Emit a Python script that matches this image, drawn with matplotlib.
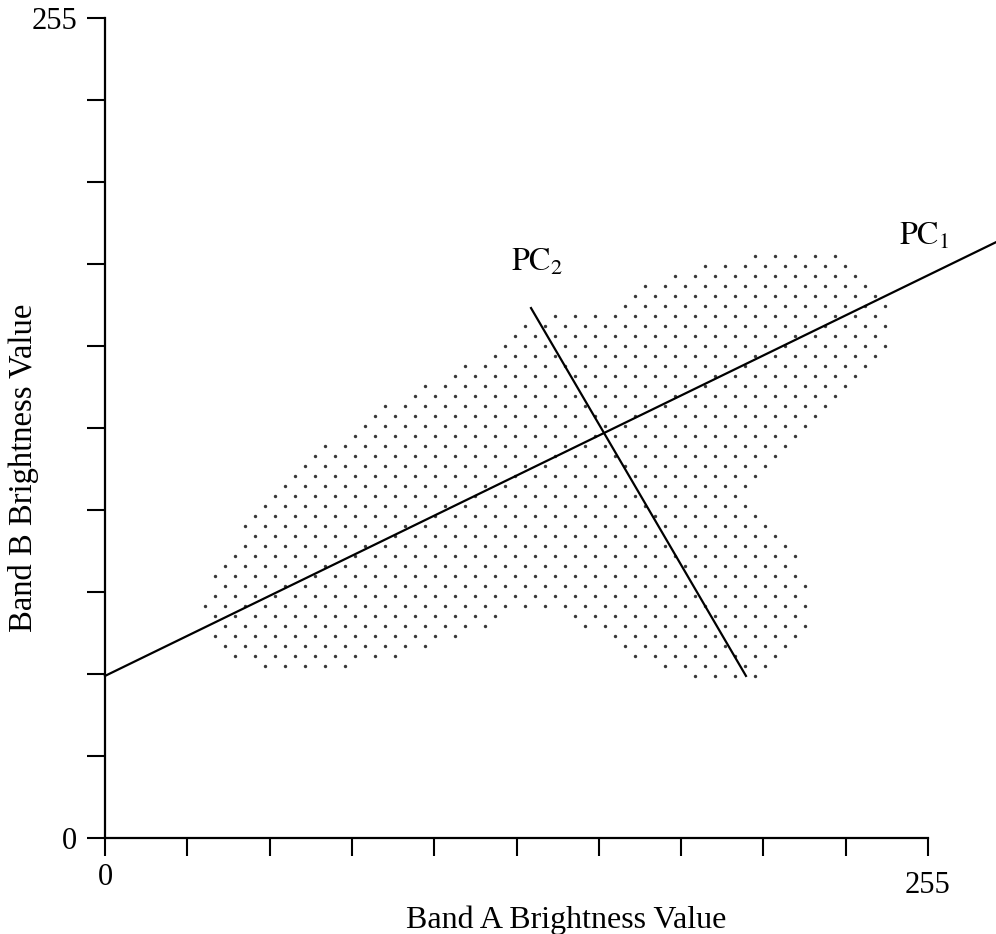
import numpy as np
import matplotlib
matplotlib.use("Agg")
import matplotlib.pyplot as plt
from matplotlib.path import Path
from matplotlib.transforms import ScaledTranslation

plt.rcParams["font.family"] = ["Liberation Serif", "DejaVu Serif"]
plt.rcParams["mathtext.fontset"] = "stix"

# Axis ticks (brightness values 0..255, ten intervals)
band_ticks = np.linspace(0, 255, 11)
tick_labels = ["0"] + [""] * 9 + ["255"]

# Outline of the pixel cloud in (Band A, Band B) brightness space
cloud_a = [31.0, 32.5, 35.6, 40.3, 44.9, 51.1, 58.9, 66.6, 75.9, 85.2,
           94.5, 103.8, 113.1, 122.4, 129.5, 137.9, 150.3, 161.1, 162.7, 167.3,
           176.6, 186.5, 199.8, 212.2, 224.6, 232.4, 238.6, 242.6, 243.9, 242.3,
           240.1, 233.9, 224.6, 215.3, 206.0, 196.7, 202.9, 209.1, 214.7, 217.8,
           219.1, 216.9, 212.2, 206.0, 198.3, 184.4, 172.0, 161.1, 154.9, 147.2,
           141.0, 137.3, 131.7, 126.1, 119.3, 110.0, 100.7, 89.9, 79.0, 66.6,
           55.8, 46.5, 38.7, 34.1, 31.6]
cloud_b = [72.8, 78.7, 84.9, 91.1, 98.3, 105.1, 113.2, 120.0, 126.3, 133.7,
           138.1, 142.4, 147.1, 153.3, 158.6, 162.3, 163.3, 163.6, 167.9, 172.0,
           175.7, 178.5, 180.4, 181.3, 181.0, 178.5, 172.9, 167.3, 161.7, 154.9,
           149.3, 143.4, 133.7, 125.0, 115.1, 105.7, 99.5, 93.3, 87.1, 78.7,
           70.3, 62.2, 56.6, 52.2, 50.4, 50.7, 53.8, 57.5, 63.4, 64.7,
           69.7, 72.8, 72.1, 69.7, 66.2, 62.8, 59.7, 56.9, 54.7, 53.2,
           53.2, 54.7, 57.5, 62.2, 67.8]

# Principal component axes (end points in Band A / Band B units)
pc1_a = [0.0, 276.1]
pc1_b = [50.4, 185.3]
pc2_a = [132.0, 198.6]
pc2_b = [164.8, 50.4]

W, H = 996, 934
fig = plt.figure(figsize=(W / 100, H / 100), dpi=100)
ax = fig.add_axes([105 / W, 96 / H, 823 / W, 820 / H])
ax.set_xlim(0, 255)
ax.set_ylim(0, 255)

for side in ("top", "right"):
    ax.spines[side].set_visible(False)
for side in ("left", "bottom"):
    ax.spines[side].set_linewidth(1.6)

ax.set_xticks(band_ticks)
ax.set_xticklabels(tick_labels)
ax.set_yticks(band_ticks)
ax.set_yticklabels(tick_labels)
ax.tick_params(axis="both", direction="out", length=13, width=1.5,
               labelsize=22)
ax.tick_params(axis="y", pad=7)
ax.tick_params(axis="x", pad=5)
# the right-hand "255" sits a little lower than the "0" under the origin
last = ax.get_xticklabels()[-1]
last.set_transform(last.get_transform() + ScaledTranslation(0, -8 / 100, fig.dpi_scale_trans))

# Stippled fill: staggered dot screen clipped to the cloud outline (in pixels)
outline_px = ax.transData.transform(np.column_stack([cloud_a, cloud_b]))
cloud_path = Path(np.vstack([outline_px, outline_px[:1]]), closed=True)
step_x, step_y = 20.0, 10.0
ys = np.arange(outline_px[:, 1].min() - step_y, outline_px[:, 1].max() + step_y, step_y)
grid = []
for i, yv in enumerate(ys):
    off = (i % 2) * step_x / 2
    xs = np.arange(outline_px[:, 0].min() - step_x + off, outline_px[:, 0].max() + step_x, step_x)
    grid.append(np.column_stack([xs, np.full_like(xs, yv)]))
grid = np.vstack(grid)
inside = cloud_path.contains_points(grid)
for ang in np.linspace(0, 2 * np.pi, 8, endpoint=False):
    shift = 3.0 * np.array([np.cos(ang), np.sin(ang)])
    inside |= cloud_path.contains_points(grid + shift)
dots = ax.transData.inverted().transform(grid[inside])
ax.scatter(dots[:, 0], dots[:, 1], s=6, color="#383838", linewidths=0, zorder=1)

ax.plot(pc1_a, pc1_b, color="black", lw=1.6, clip_on=False, zorder=3)
ax.plot(pc2_a, pc2_b, color="black", lw=1.6, clip_on=False, zorder=3)

def fig_text(px, py, s, **kw):
    fig.text(px / W, 1 - py / H, s, **kw)

fig_text(899, 245, r"$\mathrm{PC}_1$", fontsize=23, ha="left", va="baseline")
fig_text(511, 271, r"$\mathrm{PC}_2$", fontsize=23, ha="left", va="baseline")
fig_text(406, 928, "Band A Brightness Value", fontsize=23, ha="left", va="baseline")
fig_text(24, 468, "Band B Brightness Value", fontsize=23.5, ha="center", va="center",
         rotation=90)

fig.savefig("out.png", dpi=100)
